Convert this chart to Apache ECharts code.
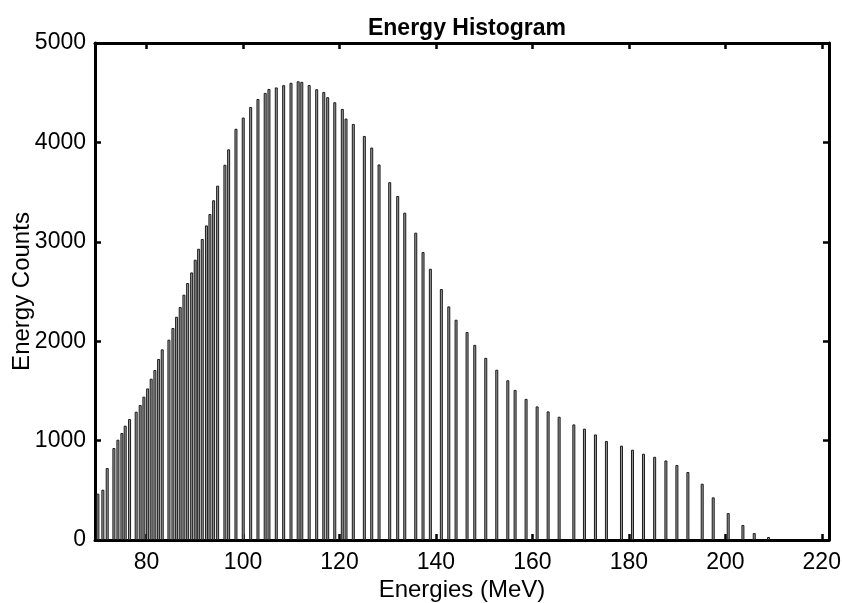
<!DOCTYPE html>
<html>
<head>
<meta charset="utf-8">
<script src="https://cdn.jsdelivr.net/npm/echarts@6/dist/echarts.min.js"></script>
<style>
html,body{margin:0;padding:0;background:#fff;}
#chart{width:842px;height:603px;}
</style>
</head>
<body>
<div id="chart"></div>
<script>
// Bin positions (MeV) of the non-empty histogram bars
const energies = [
  69.90, 70.93, 71.83, 73.22, 74.05, 74.88, 75.56, 76.47, 77.84, 78.67,
  79.44, 80.21, 80.95, 81.72, 82.49, 83.24, 84.63, 85.46, 86.22, 86.97,
  87.74, 88.51, 89.34, 90.08, 90.79, 91.54, 92.41, 93.13, 93.90, 94.73,
  96.24, 97.01, 98.53, 100.04, 101.58, 103.09, 104.59, 105.37, 106.89, 108.42,
  109.94, 111.43, 112.18, 113.71, 115.27, 116.74, 117.55, 119.02, 120.58, 121.35,
  122.86, 125.15, 126.68, 128.20, 130.41, 132.07, 133.53, 135.81, 137.32, 138.84,
  141.12, 142.66, 144.17, 146.45, 148.05, 150.33, 152.61, 154.90, 156.41, 158.69,
  160.98, 163.26, 165.54, 168.59, 170.79, 173.07, 175.35, 178.47, 180.75, 183.03,
  185.35, 187.68, 189.96, 192.24, 195.21, 197.49, 200.60, 203.65, 206.00, 208.96
];
// Counts for each bar
const counts = [
  466, 506, 724, 925, 1009, 1076, 1150, 1217, 1291, 1358,
  1442, 1525, 1623, 1710, 1821, 1918, 2015, 2133, 2246, 2344,
  2468, 2585, 2692, 2820, 2930, 3028, 3165, 3280, 3418, 3565,
  3775, 3930, 4137, 4250, 4356, 4437, 4498, 4538, 4553, 4576,
  4600, 4615, 4609, 4577, 4535, 4508, 4455, 4404, 4337, 4240,
  4186, 4065, 3948, 3778, 3600, 3461, 3293, 3092, 2897, 2729,
  2525, 2350, 2216, 2093, 1963, 1833, 1713, 1607, 1510, 1420,
  1344, 1294, 1240, 1163, 1120, 1062, 996, 949, 908, 868,
  837, 800, 755, 684, 566, 429, 271, 151, 70, 30
];
const xTicks = [80, 100, 120, 140, 160, 180, 200, 220];
const yTicks = [0, 1000, 2000, 3000, 4000, 5000];

const titleText = 'Energy Histogram';
const xName = 'Energies (MeV)';
const yName = 'Energy Counts';

const FONT = '"Liberation Sans", Arial, Helvetica, sans-serif';
const xMin = 69.3, xMax = 221.5;

const data = energies.map((e, i) => [e, counts[i]]);

const chart = echarts.init(document.getElementById('chart'), null, {renderer: 'canvas'});

const axisLine = {show: true, onZero: false, lineStyle: {color: '#000', width: 3}};
const tickStyle = {color: '#000', width: 2.5};

chart.setOption({
  animation: false,
  backgroundColor: '#fff',
  title: {
    text: titleText,
    left: 462,
    top: 12,
    textAlign: 'center',
    textStyle: {fontFamily: FONT, fontWeight: 'bold', fontSize: 23, color: '#000'}
  },
  grid: {left: 95, right: 13, top: 43, bottom: 63, containLabel: false, outerBoundsMode: 'none'},
  xAxis: [
    {
      type: 'value', position: 'bottom', min: xMin, max: xMax,
      axisLine: axisLine,
      axisTick: {show: true, inside: true, length: 6, lineStyle: tickStyle, customValues: xTicks},
      axisLabel: {show: true, customValues: xTicks, fontFamily: FONT, fontSize: 23, color: '#000', margin: 11},
      splitLine: {show: false},
      name: xName, nameLocation: 'middle', nameGap: 38, nameMoveOverlap: false,
      nameTextStyle: {fontFamily: FONT, fontSize: 24, color: '#000'}
    },
    {
      type: 'value', position: 'top', min: xMin, max: xMax,
      axisLine: axisLine,
      axisTick: {show: true, inside: true, length: 6, lineStyle: tickStyle, customValues: xTicks},
      axisLabel: {show: false},
      splitLine: {show: false}
    }
  ],
  yAxis: [
    {
      type: 'value', position: 'left', min: 0, max: 5000, interval: 1000,
      axisLine: axisLine,
      axisTick: {show: true, inside: true, length: 6, lineStyle: tickStyle},
      axisLabel: {show: true, fontFamily: FONT, fontSize: 23, color: '#000', margin: 9,
        formatter: function (v) { return String(v); }},
      splitLine: {show: false},
      name: yName, nameLocation: 'middle', nameGap: 61, nameMoveOverlap: false,
      nameTextStyle: {fontFamily: FONT, fontSize: 24, color: '#000'}
    },
    {
      type: 'value', position: 'right', min: 0, max: 5000, interval: 1000,
      axisLine: axisLine,
      axisTick: {show: true, inside: true, length: 6, lineStyle: tickStyle},
      axisLabel: {show: false},
      splitLine: {show: false}
    }
  ],
  series: [
    {
      type: 'bar',
      xAxisIndex: 0,
      yAxisIndex: 0,
      data: data,
      barWidth: 3,
      itemStyle: {color: '#9a9a9a', borderColor: '#1a1a1a', borderWidth: 1}
    }
  ]
});
</script>
</body>
</html>
